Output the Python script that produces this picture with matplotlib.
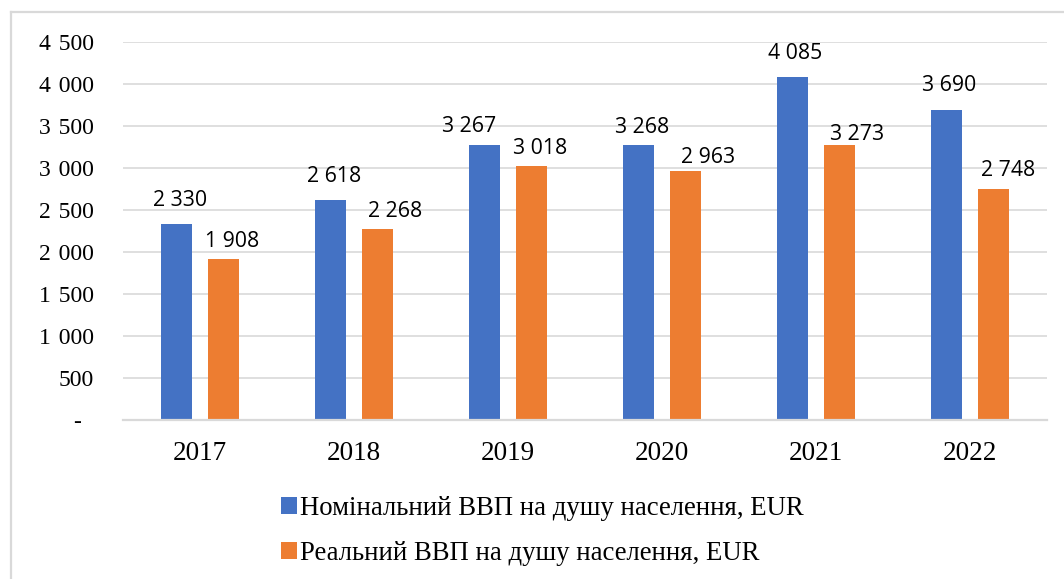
import matplotlib
matplotlib.use("Agg")
import matplotlib.pyplot as plt
from matplotlib.lines import Line2D
import numpy as np

years = ["2017", "2018", "2019", "2020", "2021", "2022"]
nominal = [2330, 2618, 3267, 3268, 4085, 3690]
real = [1908, 2268, 3018, 2963, 3273, 2748]
series_names = ["Номінальний ВВП на душу населення, EUR",
                "Реальний ВВП на душу населення, EUR"]
yticks = [0, 500, 1000, 1500, 2000, 2500, 3000, 3500, 4000, 4500]

# label offsets (pixels) from bar top centre, as placed in the original
nom_off = [(3, 25), (3, 25), (-15.7, 20.7), (3, 20), (2, 25.5), (2.7, 26)]
real_off = [(8.7, 20), (17.6, 20), (8.6, 20), (23, 15), (17.5, 12.5), (15, 20.6)]

BLUE = "#4472C4"
ORANGE = "#ED7D31"
GRID = "#D9D9D9"

W, H = 1064, 579
fig = plt.figure(figsize=(W / 100, H / 100), dpi=100)
ax = fig.add_axes([123 / W, (H - 419.7) / H, (1047 - 123) / W, (419.7 - 41.7) / H])

x = np.arange(len(years))
bw = 0.2013
off = 0.151
b1 = ax.bar(x - off, nominal, bw, color=BLUE, label=series_names[0], zorder=3)
b2 = ax.bar(x + off, real, bw, color=ORANGE, label=series_names[1], zorder=3)

ax.set_xlim(-0.5, len(years) - 0.5)
ax.set_ylim(0, 4500)
ax.set_yticks(yticks)
ax.set_yticklabels(["-  " if v == 0 else f"{v:,}".replace(",", " \u200a") for v in yticks],
                   fontfamily="Liberation Serif", fontsize=17)
ax.set_xticks(x)
ax.set_xticklabels(years, fontfamily="Liberation Serif", fontsize=19.5)
ax.tick_params(axis="y", length=0, pad=21)
ax.tick_params(axis="x", length=0, pad=15)
for s in ["top", "right", "left"]:
    ax.spines[s].set_visible(False)
ax.spines["bottom"].set_color(GRID)
ax.spines["bottom"].set_linewidth(1.6)
ax.spines["bottom"].set_zorder(4)
ax.yaxis.grid(True, color=GRID, linewidth=1.2, zorder=0)
ax.set_axisbelow(True)

def fmt(v):
    return f"{v:,}".replace(",", " ")

for i in range(len(years)):
    for vals, offs, xs in ((nominal, nom_off, x - off), (real, real_off, x + off)):
        dx, dy = offs[i]
        ax.annotate(fmt(vals[i]), xy=(xs[i], vals[i]), xytext=(dx, dy - 7.5),
                    textcoords="offset pixels", ha="center", va="baseline",
                    fontfamily="Open Sans", fontsize=15.3, color="#000000")

leg = fig.legend(handles=[b1, b2], loc="upper left",
                 bbox_to_anchor=(281 / W, 1 - 496 / H),
                 frameon=False, prop={"family": "Liberation Serif", "size": 19.3},
                 handlelength=0.6, handleheight=0.6, handletextpad=0.12,
                 labelspacing=0.75, borderpad=0, borderaxespad=0)

# outer border (left & top only visible)
fig.add_artist(Line2D([10.5 / W, 10.5 / W], [0, 1 - 12 / H], transform=fig.transFigure,
                      color=GRID, linewidth=1.6))
fig.add_artist(Line2D([10.5 / W, 1], [1 - 12 / H, 1 - 12 / H], transform=fig.transFigure,
                      color=GRID, linewidth=1.6))

fig.savefig("out.png", dpi=100, facecolor="white")
